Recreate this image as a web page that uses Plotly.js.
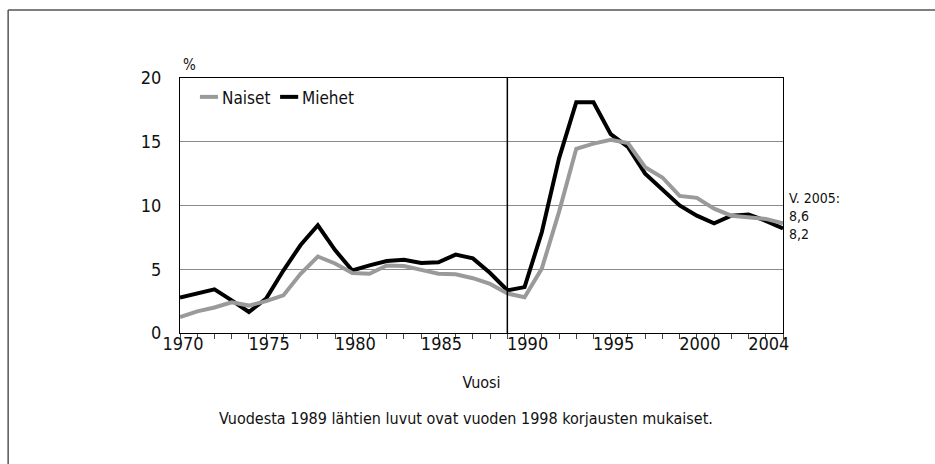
<!DOCTYPE html>
<html>
<head>
<meta charset="utf-8">
<script src="https://cdn.plot.ly/plotly-3.0.1.min.js"></script>
<style>
html,body{margin:0;padding:0;background:#fff;}
#chart{width:935px;height:464px;}
</style>
</head>
<body>
<div id="chart"></div>
<script>
// ---- data ----
const years = [1970,1971,1972,1973,1974,1975,1976,1977,1978,1979,
               1980,1981,1982,1983,1984,1985,1986,1987,1988,1989,
               1990,1991,1992,1993,1994,1995,1996,1997,1998,1999,
               2000,2001,2002,2003,2004,2005];
const naiset = [1.25,1.7,2.0,2.4,2.15,2.5,2.95,4.65,6.0,5.45,
                4.7,4.65,5.3,5.25,4.95,4.65,4.6,4.3,3.85,3.1,
                2.8,5.05,9.5,14.45,14.85,15.15,14.9,13.0,12.2,10.75,
                10.6,9.75,9.2,9.1,8.95,8.6];
const miehet = [2.77,3.08,3.42,2.56,1.65,2.7,4.9,6.9,8.45,6.5,
                4.9,5.3,5.65,5.75,5.5,5.55,6.15,5.85,4.7,3.35,
                3.6,7.9,13.7,18.1,18.1,15.6,14.6,12.5,11.2,10.0,
                9.2,8.6,9.2,9.3,8.8,8.2];
const xTickVals = [1970,1975,1980,1985,1990,1995,2000,2004];
const xTickText = ['1970','1975','1980','1985','1990','1995','2000','2004'];
const yTickVals = [0,5,10,15,20];
const revisionYear = 1989;
const seriesNames = ['Naiset','Miehet'];
const seriesColors = ['#9a9a9a','#000000'];
const endLabel = 'V. 2005:';
const xTitle = 'Vuosi';
const yUnit = '%';
const footnote = 'Vuodesta 1989 lähtien luvut ovat vuoden 1998 korjausten mukaiset.';

const FONT = '"Liberation Sans Narrow", "DejaVu Sans Condensed", "Arial Narrow", sans-serif';
const fmt = v => v.toFixed(1).replace('.', ',');

const traces = [
  {x: years, y: miehet, name: seriesNames[1], type: 'scatter', mode: 'lines',
   line: {color: seriesColors[1], width: 4}},
  {x: years, y: naiset, name: seriesNames[0], type: 'scatter', mode: 'lines',
   line: {color: seriesColors[0], width: 4}}
];

// custom compact legend (short symbols as in the reference)
const legendItems = [
  {name: seriesNames[0], color: seriesColors[0], x0: 0.033, x1: 0.063, tx: 0.066},
  {name: seriesNames[1], color: seriesColors[1], x0: 0.166, x1: 0.196, tx: 0.199}
];
const legendY = 0.926;
const legendShapes = legendItems.map(it => ({
  type: 'line', xref: 'paper', yref: 'paper', x0: it.x0, x1: it.x1, y0: legendY, y1: legendY,
  line: {color: it.color, width: 4}
}));
const legendTexts = legendItems.map(it => ({
  xref: 'paper', yref: 'paper', x: it.tx, y: legendY - 0.006, xanchor: 'left', yanchor: 'middle',
  text: it.name, showarrow: false, font: {family: FONT, size: 17, color: '#111'}
}));

const last = years.length - 1;
const endText = [endLabel, fmt(naiset[last]), fmt(miehet[last])].join('<br>');

const layout = {
  width: 935, height: 464,
  margin: {l: 180, r: 152, t: 78, b: 131},
  paper_bgcolor: '#ffffff', plot_bgcolor: '#ffffff',
  font: {family: FONT, size: 17, color: '#111'},
  showlegend: false,
  xaxis: {range: [1970, 2005], tickmode: 'array', tickvals: xTickVals, ticktext: xTickText,
          ticks: '', showgrid: false, zeroline: false, ticklabelstandoff: -6, ticklabelshift: 3,
          showline: true, linecolor: '#000', linewidth: 1, mirror: true,
          minor: {ticks: 'outside', tick0: 1970, dtick: 1, ticklen: 5, tickcolor: '#444', showgrid: false},
          title: {text: xTitle, font: {family: FONT, size: 16, color: '#111'}, standoff: 24},
          tickfont: {family: FONT, size: 18, color: '#111'}},
  yaxis: {range: [0, 20], tickmode: 'array', tickvals: yTickVals,
          ticks: 'outside', ticklen: 14, tickcolor: 'rgba(0,0,0,0)',
          showgrid: true, gridcolor: '#8a8a8a', gridwidth: 1, zeroline: false,
          showline: true, linecolor: '#000', linewidth: 1, mirror: true,
          tickfont: {family: FONT, size: 18, color: '#111'}},
  shapes: [
    {type: 'line', xref: 'x', yref: 'paper', x0: revisionYear, x1: revisionYear, y0: 0, y1: 1,
     line: {color: '#000', width: 1.5}},
    {type: 'line', xref: 'paper', yref: 'paper', x0: -0.285, x1: -0.285, y0: 1.267, y1: -0.7,
     line: {color: '#555', width: 1.5}},
    {type: 'line', xref: 'paper', yref: 'paper', x0: -0.285, x1: 1.4, y0: 1.267, y1: 1.267,
     line: {color: '#555', width: 1.5}}
  ].concat(legendShapes),
  annotations: [
    {xref: 'paper', yref: 'paper', x: 0, y: 1, xanchor: 'left', yanchor: 'bottom',
     xshift: 1, yshift: 2, text: yUnit, showarrow: false,
     font: {family: FONT, size: 15, color: '#111'}},
    {xref: 'paper', yref: 'paper', x: 1, y: 0.459, xanchor: 'left', yanchor: 'middle', align: 'left',
     xshift: 5, text: endText, showarrow: false, borderpad: 0, font: {family: FONT, size: 14, color: '#111'}},
    {xref: 'paper', yref: 'paper', x: 0.475, y: -0.337, xanchor: 'center', yanchor: 'middle',
     text: footnote, showarrow: false, font: {family: FONT, size: 16, color: '#111'}}
  ].concat(legendTexts)
};

Plotly.newPlot('chart', traces, layout, {displayModeBar: false, staticPlot: true});
</script>
</body>
</html>
